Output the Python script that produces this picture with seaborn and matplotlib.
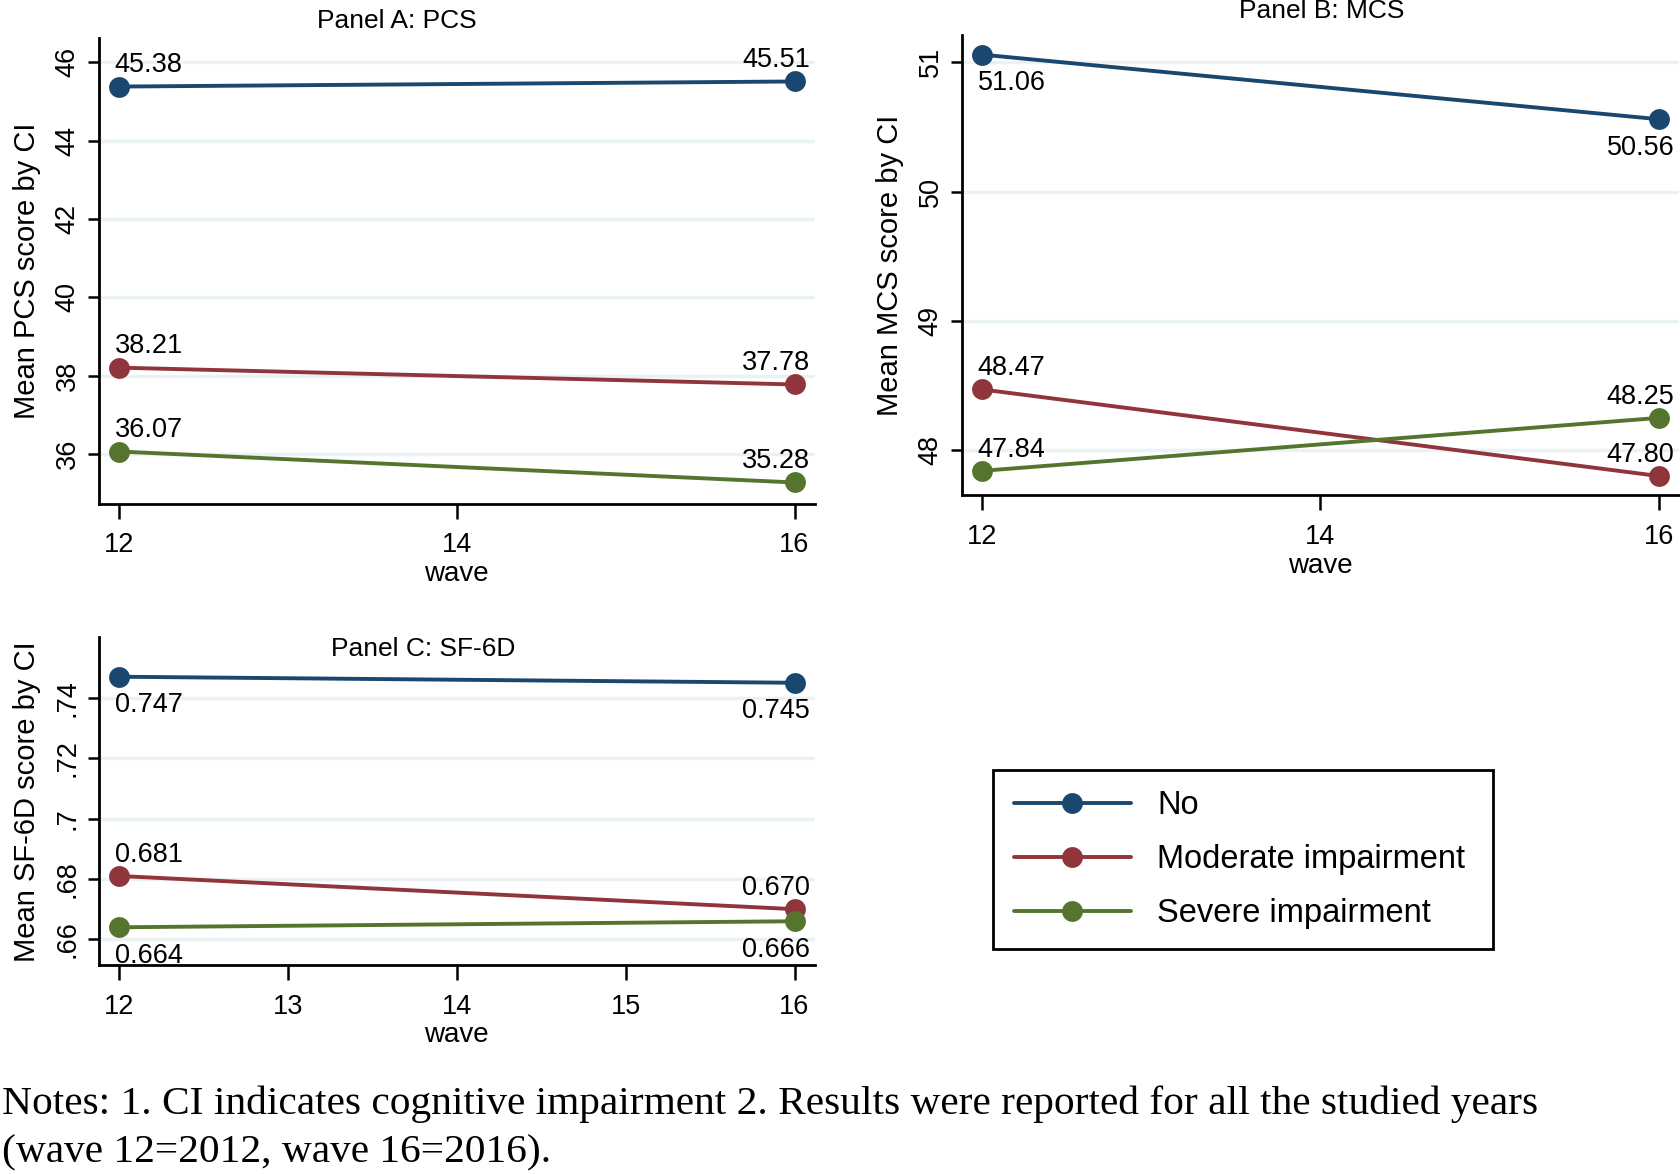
import numpy as np
import pandas as pd
import seaborn as sns
import matplotlib.pyplot as plt
from matplotlib.ticker import FuncFormatter

# data
waves = [12, 16]
groups = ['No', 'Moderate impairment', 'Severe impairment']
pcs_no = [45.38, 45.51]
pcs_mod = [38.21, 37.78]
pcs_sev = [36.07, 35.28]
mcs_no = [51.06, 50.56]
mcs_mod = [48.47, 47.80]
mcs_sev = [47.84, 48.25]
sf6d_no = [0.747, 0.745]
sf6d_mod = [0.681, 0.670]
sf6d_sev = [0.664, 0.666]

pcs_ticks = [36, 38, 40, 42, 44, 46]
mcs_ticks = [48, 49, 50, 51]
sf6d_ticks = [0.66, 0.68, 0.70, 0.72, 0.74]


def long_df(no, mod, sev):
    rows = []
    for g, vals in zip(groups, [no, mod, sev]):
        for w, v in zip(waves, vals):
            rows.append({'wave': w, 'group': g, 'value': v})
    return pd.DataFrame(rows)


df_pcs = long_df(pcs_no, pcs_mod, pcs_sev)
df_mcs = long_df(mcs_no, mcs_mod, mcs_sev)
df_sf = long_df(sf6d_no, sf6d_mod, sf6d_sev)

sns.set_style('white')
plt.rcParams['font.family'] = ['Liberation Sans', 'DejaVu Sans']
plt.rcParams['text.color'] = 'black'
plt.rcParams['axes.labelcolor'] = 'black'
plt.rcParams['xtick.color'] = 'black'
plt.rcParams['ytick.color'] = 'black'

palette = {'No': '#1a476f', 'Moderate impairment': '#90353b',
           'Severe impairment': '#55752f'}
grid_col = '#eaf2f3'

fig = plt.figure(figsize=(16.81, 11.74), dpi=100)
ax_a = fig.add_axes([0.0587, 0.571, 0.426, 0.397])
ax_b = fig.add_axes([0.572, 0.578, 0.427, 0.392])
ax_c = fig.add_axes([0.0587, 0.178, 0.426, 0.279])

# label placement per series: 'up' or 'down'
label_pos = {
    'A': {'No': 'up', 'Moderate impairment': 'up', 'Severe impairment': 'up'},
    'B': {'No': 'down', 'Moderate impairment': 'up', 'Severe impairment': 'up'},
    'C': {'No': 'down', 'Moderate impairment': 'up', 'Severe impairment': 'down'},
}


def draw(ax, df, key, ylim, yticks, xticks, fmt, tickfmt, ylabel):
    for y in yticks:
        ax.axhline(y, color=grid_col, lw=2.5, zorder=0)
    sns.lineplot(data=df, x='wave', y='value', hue='group', palette=palette,
                 marker='o', markersize=15, markeredgewidth=0, linewidth=2.8,
                 ax=ax, legend=True, zorder=3)
    for g in groups:
        sub = df[df['group'] == g]
        p = label_pos[key][g]
        for w, v in zip(sub['wave'], sub['value']):
            dy = 6 if p == 'up' else -11
            va = 'bottom' if p == 'up' else 'top'
            if w == waves[0]:
                dx, ha = -3, 'left'
            else:
                dx, ha = 11, 'right'
            ax.annotate(fmt.format(v), (w, v), xytext=(dx, dy),
                        textcoords='offset points', ha=ha, va=va,
                        fontsize=19.5, zorder=4)
    ax.set_xlim(11.88, 16.12)
    ax.set_ylim(*ylim)
    ax.set_xticks(xticks)
    ax.set_yticks(yticks)
    ax.yaxis.set_major_formatter(FuncFormatter(tickfmt))
    ax.tick_params(axis='x', bottom=True, direction='out', length=11,
                   width=1.8, labelsize=19.5, pad=9.5)
    ax.tick_params(axis='y', left=True, direction='out', length=8,
                   width=1.8, labelsize=19.5, pad=5, labelrotation=90)
    for lbl in ax.get_yticklabels():
        lbl.set_va('center')
    for s in ['top', 'right']:
        ax.spines[s].set_visible(False)
    for s in ['left', 'bottom']:
        ax.spines[s].set_color('black')
        ax.spines[s].set_linewidth(2)
    ax.set_xlabel('wave', fontsize=20, labelpad=2)
    ax.set_ylabel(ylabel, fontsize=21, labelpad=10)
    ax.grid(False)


def int_fmt(v, _):
    return f'{v:g}'


def dot_fmt(v, _):
    s = f'{v:g}'
    return s[1:] if s.startswith('0') else s


draw(ax_a, df_pcs, 'A', (34.74, 46.63), pcs_ticks, [12, 14, 16],
     '{:.2f}', int_fmt, 'Mean PCS score by CI')
draw(ax_b, df_mcs, 'B', (47.65, 51.21), mcs_ticks, [12, 14, 16],
     '{:.2f}', int_fmt, 'Mean MCS score by CI')
draw(ax_c, df_sf, 'C', (0.6515, 0.760), sf6d_ticks, [12, 13, 14, 15, 16],
     '{:.3f}', dot_fmt, 'Mean SF-6D score by CI')

handles, labels = ax_a.get_legend_handles_labels()
for ax in [ax_a, ax_b, ax_c]:
    ax.get_legend().remove()

fig.text(0.236, 0.982, 'Panel A: PCS', ha='center', va='center', fontsize=19)
fig.text(0.786, 0.991, 'Panel B: MCS', ha='center', va='center', fontsize=19)
fig.text(0.252, 0.447, 'Panel C: SF-6D', ha='center', va='center', fontsize=19)

leg = fig.legend(handles, labels, loc='upper left',
                 bbox_to_anchor=(0.591, 0.344, 0.297, 0.0), mode='expand',
                 fontsize=23.5, frameon=True, fancybox=False, framealpha=1,
                 edgecolor='black', handlelength=3.6, handletextpad=0.8,
                 labelspacing=0.7, borderpad=0.62, borderaxespad=0)
leg.get_frame().set_linewidth(2)

fig.text(0.001, 0.0594,
         'Notes: 1. CI indicates cognitive impairment 2. Results were reported for all the studied years',
         family='Liberation Serif', fontsize=29.8, ha='left', va='center')
fig.text(0.001, 0.018, '(wave 12=2012, wave 16=2016).',
         family='Liberation Serif', fontsize=29.8, ha='left', va='center')

fig.savefig('out.png', dpi=100, facecolor='white')
